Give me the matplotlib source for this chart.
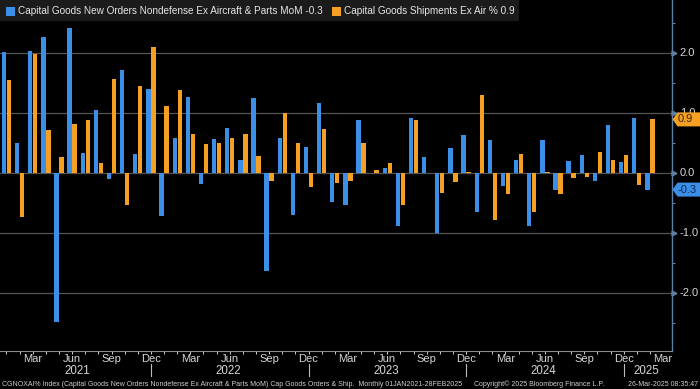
import matplotlib
matplotlib.use("Agg")
import matplotlib.pyplot as plt
import matplotlib.transforms as mtransforms
from matplotlib.patches import Rectangle, Polygon
from matplotlib import font_manager as fm
import numpy as np

# ---------------- data ----------------
series_names = ["Capital Goods New Orders Nondefense Ex Aircraft & Parts MoM",
                "Capital Goods Shipments Ex Air %"]
orders_mom = [2.03, 0.51, 2.04, 2.27, -2.48, 2.42, 0.34, 1.06, -0.09, 1.73, 0.32, 1.41,
              -0.71, 0.59, 1.27, -0.18, 0.57, 0.75, 0.22, 1.26, -1.62, 0.59, -0.69, 0.44,
              1.17, -0.48, -0.52, 0.89, 0.0, 0.09, -0.87, 0.93, 0.28, -1.00, 0.42, 0.64,
              -0.64, 0.55, -0.21, 0.23, -0.88, 0.55, -0.28, 0.20, 0.30, -0.12, 0.81, 0.19,
              0.92, -0.27]
shipments = [1.56, -0.73, 1.99, 0.73, 0.27, 0.82, 0.89, 0.18, 1.57, -0.53, 1.46, 2.11,
             1.12, 1.39, 0.65, 0.49, 0.50, 0.59, 0.65, 0.29, -0.12, 1.00, 0.50, -0.22,
             0.74, -0.16, -0.13, 0.50, 0.05, 0.18, -0.53, 0.89, 0.0, -0.33, -0.15, 0.03,
             1.30, -0.77, -0.34, 0.33, -0.64, 0.03, -0.34, -0.08, -0.06, 0.35, 0.23, 0.30,
             -0.19, 0.90]
orders_last_label = "-0.3"
shipments_last_label = "0.9"
month_tick_pos = list(range(2, 51, 3))
month_tick_labels = ["Mar", "Jun", "Sep", "Dec"] * 4 + ["Mar"]
year_pos = [5.4, 16.9, 28.9, 40.9, 48.75]
year_labels = ["2021", "2022", "2023", "2024", "2025"]
year_sep_pos = [11, 23, 35, 47]
y_ticks = [-2.0, -1.0, 0.0, 1.0, 2.0]
y_tick_labels = ["-2.0", "-1.0", "0.0", "1.0", "2.0"]
footer_left = ("CGNOXAI% Index (Capital Goods New Orders Nondefense Ex Aircraft & Parts MoM) "
               "Cap Goods Orders & Ship.  Monthly 01JAN2021-28FEB2025")
footer_mid = "Copyright\u00a9 2025 Bloomberg Finance L.P."
footer_right = "26-Mar-2025 08:35:47"

# ---------------- style ----------------
names = {f.name for f in fm.fontManager.ttflist}
fam = [f for f in ["Liberation Sans Narrow", "Liberation Sans", "DejaVu Sans"] if f in names]
plt.rcParams["font.family"] = fam

BLUE = "#3b8fe6"
ORANGE = "#f5a023"
BG = "#000000"
GRID = "#555555"
AXBLUE = "#5d7fa6"
TXT = "#d6d6d6"

W, H = 700, 389
fig = plt.figure(figsize=(W / 100, H / 100), dpi=100, facecolor=BG)
ax = fig.add_axes([0, 38 / H, 671.7 / W, 1 - 38 / H])
ax.set_facecolor(BG)

x = np.arange(len(orders_mom))
bw = 0.33
off = 0.19
ax.bar(x - off, orders_mom, width=bw, color=BLUE, zorder=3)
ax.bar(x + off, shipments, width=bw, color=ORANGE, zorder=3)

ax.set_xlim(-0.495, 50.66)
ax.set_ylim(-2.96, 2.89)

for yv in y_ticks:
    ax.axhline(yv, color=GRID, lw=0.9, zorder=1)

for s in ["top", "left"]:
    ax.spines[s].set_visible(False)
ax.spines["right"].set_color(AXBLUE)
ax.spines["right"].set_linewidth(1.0)
ax.spines["bottom"].set_color("#8a8a8a")
ax.spines["bottom"].set_linewidth(0.8)

ax.set_xticks(x)
ax.tick_params(axis="x", length=2.5, width=0.7, color="#cfcfcf", labelbottom=False)
ax.yaxis.tick_right()
ax.set_yticks(y_ticks)
ax.set_yticks(np.arange(-2.5, 2.51, 0.5), minor=True)
ax.tick_params(axis="y", which="major", length=0, labelright=False)
ax.tick_params(axis="y", which="minor", length=2.5, width=0.8, color=AXBLUE)

# right axis arrow ticks and labels
ytr = mtransforms.blended_transform_factory(ax.transAxes, ax.transData)
ax.plot([1.004] * len(y_ticks), y_ticks, linestyle="none", marker=">", markersize=3.5,
        color=AXBLUE, transform=ytr, clip_on=False, zorder=5)
for yv, lab in zip(y_ticks, y_tick_labels):
    ax.text(1.0 + 8 / 671.7, yv, lab, transform=ytr, color=TXT, fontsize=8,
            va="center", ha="left", clip_on=False)

# x labels
xtr = mtransforms.blended_transform_factory(ax.transData, fig.transFigure)
for p, lab in zip(month_tick_pos, month_tick_labels):
    ax.text(p, (H - 359.5) / H, lab, transform=xtr, color=TXT, fontsize=8,
            ha="center", va="center", clip_on=False)
for p, lab in zip(year_pos, year_labels):
    ax.text(p, (H - 371) / H, lab, transform=xtr, color=TXT, fontsize=8.3,
            ha="center", va="center", clip_on=False)
for p in year_sep_pos:
    ax.plot([p, p], [(H - 364) / H, (H - 376) / H], transform=xtr, color="#bdbdbd",
            lw=0.8, clip_on=False)

# footer
fig.text(2 / W, (H - 384) / H, footer_left, color="#cfcfcf", fontsize=5.0, va="center", ha="left")
fig.text(539 / W, (H - 384) / H, footer_mid, color="#cfcfcf", fontsize=5.0, va="center", ha="center")
fig.text(698 / W, (H - 384) / H, footer_right, color="#cfcfcf", fontsize=5.0, va="center", ha="right")

# value tags
fig.canvas.draw()
def tag(val, text, face, tcol):
    yc = ax.transData.transform((0, val))[1]  # display px from bottom
    x0 = 672.5
    pts = [(x0, yc), (x0 + 5, yc + 7), (W, yc + 7), (W, yc - 7), (x0 + 5, yc - 7)]
    pts = [(px / W, py / H) for px, py in pts]
    fig.patches.append(Polygon(pts, closed=True, transform=fig.transFigure,
                               facecolor=face, edgecolor="none", zorder=10))
    fig.text((x0 + 5.5) / W, yc / H, text, color=tcol, fontsize=8, va="center",
             ha="left", zorder=11)

tag(shipments[-1], shipments_last_label, ORANGE, "#3d2500")
tag(orders_mom[-1], orders_last_label, BLUE, "#0b2a55")

# legend box
fig.patches.append(Rectangle((0, (H - 21) / H), 519 / W, 21 / H, transform=fig.transFigure,
                             facecolor="#1b1b1b", edgecolor="none", zorder=8))
ly = (H - 11.5) / H
fig.patches.append(Rectangle((6 / W, (H - 16) / H), 9 / W, 9 / H, transform=fig.transFigure,
                             facecolor=BLUE, edgecolor="none", zorder=9))
t1 = fig.text(18 / W, ly, f"{series_names[0]} {orders_last_label}", color="#e6e6e6",
              fontsize=7.2, va="center", ha="left", zorder=9)
fig.canvas.draw()
bb = t1.get_window_extent()
x2 = bb.x1 + 9
fig.patches.append(Rectangle((x2 / W, (H - 16) / H), 9 / W, 9 / H, transform=fig.transFigure,
                             facecolor=ORANGE, edgecolor="none", zorder=9))
fig.text((x2 + 12) / W, ly, f"{series_names[1]} {shipments_last_label}", color="#e6e6e6",
         fontsize=7.2, va="center", ha="left", zorder=9)

fig.savefig("out.png", dpi=100, facecolor=BG)
